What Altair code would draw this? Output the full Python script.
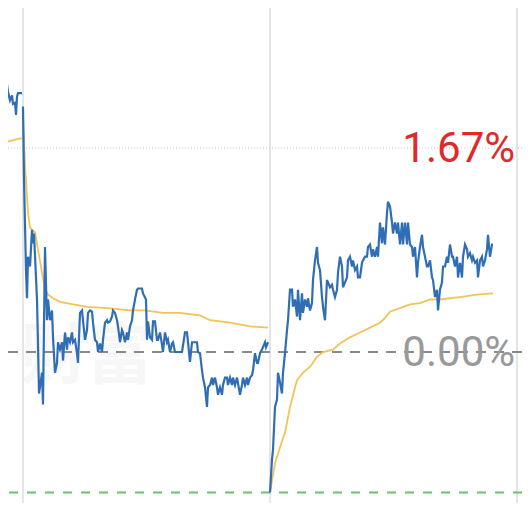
import altair as alt
import pandas as pd

# ---- data (percent change vs reference price; t = minute slot index, day starts at 0 / 247) ----
tail_t = [-23, -20, -16, -15, -13, -11, -10, -8, -7, -6, -5, -1]
tail_price = [2.28, 2.20, 2.19, 2.13, 2.06, 2.10, 2.03, 2.04, 1.94, 2.09, 2.12, 2.12]
tail_avg_t = [-23, -1]
tail_avg = [1.71, 1.75]

d2_t = [0, 1, 3, 4, 5, 7, 9, 10, 11, 14, 15, 16, 19, 20, 22, 24, 25, 27, 29, 30, 32, 34, 35, 37,
        39, 40, 42, 44, 45, 47, 49, 50, 52, 54, 55, 57, 59, 60, 62, 64, 65, 67, 69, 70, 72, 74,
        75, 77, 79, 80, 82, 84, 85, 87, 89, 90, 92, 94, 95, 97, 99, 100, 102, 104, 105, 107, 109,
        110, 112, 114, 115, 119, 120, 123, 124, 125, 127, 129, 130, 132, 134, 135, 137, 139, 140,
        142, 144, 145, 147, 149, 150, 152, 159, 162, 164, 165, 167, 169, 174, 175, 177, 179, 180,
        182, 184, 185, 187, 189, 190, 192, 194, 195, 197, 199, 200, 202, 204, 205, 207, 209, 210,
        212, 214, 217, 219, 220, 222, 224, 225, 227, 229, 230, 232, 234, 235, 237, 239, 240, 242,
        243, 245]
d2_price = [2.01, 1.41, 0.67, 0.44, 0.78, 0.70, 1.00, 0.89, 0.97, 0.43, 0.07, -0.34, -0.17, -0.43,
            0.86, 0.26, 0.43, 0.26, 0.34, 0.12, -0.17, -0.09, 0.08, 0.02, 0.08, -0.07, 0.16, 0.02,
            0.12, 0.08, 0.16, 0.08, 0.10, -0.01, -0.09, 0.32, 0.34, 0.26, 0.10, 0.18, 0.32, 0.34,
            0.33, 0.24, 0.10, 0.08, 0.00, 0.07, 0.00, 0.10, 0.24, 0.26, 0.24, 0.25, 0.29, 0.34,
            0.32, 0.26, 0.21, 0.08, 0.18, 0.16, 0.08, 0.16, 0.10, 0.21, 0.26, 0.34, 0.43, 0.51,
            0.52, 0.52, 0.48, 0.43, 0.10, 0.25, 0.12, 0.10, 0.25, 0.25, 0.10, 0.10, 0.16, 0.06,
            0.00, 0.16, 0.08, 0.10, 0.00, 0.07, 0.08, 0.00, 0.00, 0.16, 0.16, 0.08, -0.08, 0.08,
            0.08, 0.00, -0.01, -0.15, -0.21, -0.29, -0.45, -0.29, -0.27, -0.21, -0.27, -0.21,
            -0.29, -0.35, -0.29, -0.35, -0.27, -0.21, -0.21, -0.27, -0.21, -0.27, -0.21, -0.27,
            -0.21, -0.35, -0.27, -0.21, -0.27, -0.21, -0.27, -0.21, -0.19, -0.15, -0.01, -0.09,
            -0.09, -0.01, 0.02, 0.04, 0.08, 0.04, 0.08]
d2_avg_t = [0, 2, 5, 7, 9, 12, 15, 19, 22, 25, 30, 37, 50, 64, 84, 107, 122, 140, 157, 177, 187,
            207, 227, 245]
d2_avg = [1.94, 1.53, 1.14, 1.02, 1.00, 0.98, 0.84, 0.65, 0.51, 0.47, 0.44, 0.41, 0.39, 0.37,
          0.36, 0.34, 0.34, 0.32, 0.32, 0.30, 0.26, 0.24, 0.21, 0.20]

d3_t = [247, 249, 250, 252, 254, 255, 257, 259, 260, 262, 264, 265, 267, 269, 270, 272, 274, 275,
        277, 279, 280, 282, 284, 285, 287, 289, 290, 292, 294, 295, 297, 299, 300, 302, 304, 305,
        307, 309, 310, 312, 314, 315, 317, 319, 320, 322, 324, 325, 327, 329, 330, 332, 334, 335,
        337, 339, 340, 342, 344, 345, 347, 349, 350, 352, 354, 355, 357, 359, 360, 362, 364, 365,
        367, 369, 370, 372, 374, 375, 377, 379, 380, 382, 384, 385, 387, 389, 390, 392, 394, 395,
        397, 399, 400, 402, 404, 405, 407, 409, 410, 412, 414, 415, 417, 419, 420, 422, 424, 425,
        427, 429, 430, 432, 434, 435, 437, 439, 440, 442, 444, 445, 447, 449, 450, 452, 454, 455,
        457, 459, 460, 462, 464, 465, 467, 469, 470]
d3_price = [-1.15, -0.88, -0.80, -0.45, -0.39, -0.17, -0.25, -0.34, -0.17, -0.01, 0.18, 0.26, 0.51,
            0.51, 0.37, 0.43, 0.29, 0.51, 0.26, 0.48, 0.32, 0.43, 0.37, 0.44, 0.34, 0.40, 0.59,
            0.75, 0.86, 0.73, 0.67, 0.45, 0.37, 0.26, 0.59, 0.57, 0.53, 0.55, 0.51, 0.45, 0.51,
            0.65, 0.78, 0.70, 0.53, 0.57, 0.61, 0.75, 0.78, 0.70, 0.75, 0.67, 0.70, 0.61, 0.61,
            0.73, 0.75, 0.78, 0.78, 0.86, 0.88, 0.78, 0.84, 0.78, 0.86, 0.78, 1.06, 0.89, 1.02,
            0.88, 1.14, 1.23, 1.19, 1.06, 0.97, 1.06, 0.97, 1.06, 0.88, 1.06, 0.88, 1.06, 0.88,
            1.06, 0.88, 0.86, 0.78, 0.86, 0.61, 0.73, 0.86, 0.96, 0.86, 0.78, 0.70, 0.70, 0.75,
            0.61, 0.59, 0.45, 0.51, 0.34, 0.51, 0.57, 0.70, 0.70, 0.78, 0.73, 0.88, 0.78, 0.78,
            0.70, 0.78, 0.61, 0.73, 0.61, 0.78, 0.88, 0.84, 0.78, 0.81, 0.75, 0.78, 0.73, 0.75,
            0.61, 0.75, 0.78, 0.70, 0.75, 0.84, 0.96, 0.78, 0.88, 0.88]
d3_avg_t = [247, 252, 257, 262, 267, 274, 280, 287, 294, 300, 310, 317, 327, 337, 347, 357, 362,
            367, 377, 387, 397, 407, 417, 427, 437, 454, 470]
d3_avg = [-1.15, -0.91, -0.78, -0.66, -0.45, -0.23, -0.17, -0.12, -0.04, 0.00, 0.02, 0.07, 0.12,
          0.16, 0.20, 0.24, 0.28, 0.33, 0.36, 0.39, 0.40, 0.43, 0.43, 0.44, 0.45, 0.47, 0.48]

day_breaks = [0, 247, 494]
level_pct = [1.67, 0.0, -1.15]
level_kind = ["dotted", "zero", "low"]
label_text = ["1.67%", "0.00%"]
label_pct = [1.67, 0.0]
label_t = [492, 492]
label_kind = ["up", "flat"]
watermark = ["财富"]

# ---- build tables ----
rows = []
for seg, ts, vs in [("d1", tail_t, tail_price), ("d2", d2_t, d2_price), ("d3", d3_t, d3_price)]:
    rows += [{"t": a, "pct": b, "seg": seg, "series": "price"} for a, b in zip(ts, vs)]
for seg, ts, vs in [("d1", tail_avg_t, tail_avg), ("d2", d2_avg_t, d2_avg), ("d3", d3_avg_t, d3_avg)]:
    rows += [{"t": a, "pct": b, "seg": seg, "series": "avg"} for a, b in zip(ts, vs)]
lines_df = pd.DataFrame(rows)

xs = alt.Scale(domain=[-15, 499], nice=False, zero=False)
ys = alt.Scale(domain=[-1.236, 2.816], nice=False, zero=False)

X = lambda f: alt.X(f, type="quantitative", scale=xs, axis=None)
Y = lambda f: alt.Y(f, type="quantitative", scale=ys, axis=None)

wm = alt.Chart(pd.DataFrame({"t": [64], "pct": [-0.05], "txt": watermark})).mark_text(
    font="Noto Sans CJK SC", fontSize=66, fontWeight="bold", color="#f7f7f7", align="center",
    baseline="middle").encode(x=X("t"), y=Y("pct"), text="txt:N")

vlines = alt.Chart(pd.DataFrame({"t": day_breaks})).mark_rule(
    color="#dcdcdc", strokeWidth=1.5).encode(x=X("t"))

lv = pd.DataFrame({"pct": level_pct, "kind": level_kind})
dotted = alt.Chart(lv[lv.kind == "dotted"]).mark_rule(
    color="#c8c8c8", strokeWidth=1, strokeDash=[1, 2]).encode(y=Y("pct"))
zero = alt.Chart(lv[lv.kind == "zero"]).mark_rule(
    color="#8a8a8a", strokeWidth=2, strokeDash=[10, 8]).encode(y=Y("pct"))
low = alt.Chart(lv[lv.kind == "low"]).mark_rule(
    color="#6cbf6c", strokeWidth=2, strokeDash=[9, 9]).encode(y=Y("pct"))

avg_line = alt.Chart(lines_df[lines_df.series == "avg"]).mark_line(
    color="#f2c457", strokeWidth=1.8, clip=True).encode(
    x=X("t"), y=Y("pct"), detail="seg:N", order="t:Q")
price_line = alt.Chart(lines_df[lines_df.series == "price"]).mark_line(
    color="#2f6db5", strokeWidth=2.2, clip=True).encode(
    x=X("t"), y=Y("pct"), detail="seg:N", order="t:Q")

labels_df = pd.DataFrame({"t": label_t, "pct": label_pct, "txt": label_text, "kind": label_kind})
labels = alt.Chart(labels_df).mark_text(
    font="Roboto", fontSize=42, align="right", baseline="middle", dy=1).encode(
    x=X("t"), y=Y("pct"), text="txt:N",
    color=alt.Color("kind:N", scale=alt.Scale(domain=["up", "flat"], range=["#e02a2a", "#999999"]),
                    legend=None))

chart = alt.layer(wm, vlines, dotted, zero, low, avg_line, price_line, labels).properties(
    width=514, height=495, padding=0, autosize=alt.AutoSizeParams(type="none")
).configure_view(stroke=None)

chart.save("out.html", embed_options={"renderer": "svg", "actions": False})
